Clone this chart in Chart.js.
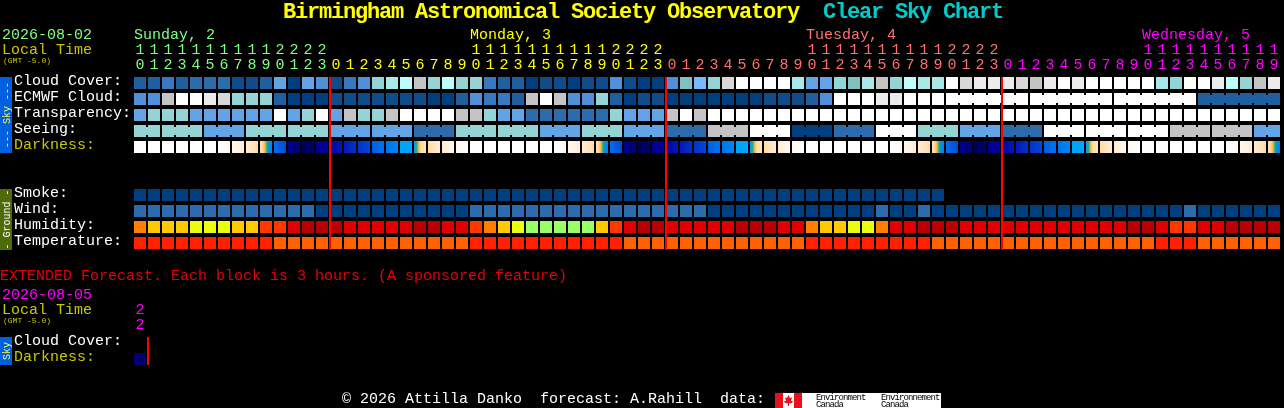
<!DOCTYPE html>
<html>
<head>
<meta charset="utf-8">
<title>Birmingham Astronomical Society Observatory Clear Sky Chart</title>
<script src="https://cdn.jsdelivr.net/npm/chart.js@4/dist/chart.umd.min.js"></script>
<style>
    html, body { margin: 0; padding: 0; background: #000; overflow: hidden; }
    canvas { display: block; }
</style>
</head>
<body>
<canvas id="sky-chart" width="1284" height="408"></canvas>
<script>
// local hour of each forecast block
const hours = [10,11,12,13,14,15,16,17,18,19,20,21,22,23,
    0,1,2,3,4,5,6,7,8,9,10,11,12,13,14,15,16,17,18,19,20,21,22,23,
    0,1,2,3,4,5,6,7,8,9,10,11,12,13,14,15,16,17,18,19,20,21,22,23,
    0,1,2,3,4,5,6,7,8,9,10,11,12,13,14,15,16,17,18,19];

// sky rows hold a level, 0 = best (dark blue) .. 15 = worst (white)
const cloudCover = [2,2,4,2,3,3,3,1,1,2, 6,0,6,5,1,4,5,9,10,11, 12,9,11,9,9,4,2,2,0,1,
    1,0,1,1,5,1,0,0,5,8, 7,9,13,15,15,15,15,10,6,6, 9,8,10,12,9,11,10,10,15,13,
    14,14,14,13,12,14,15,14,15,15, 15,15,15,10,9,15,15,14,11,9, 12,14];
const ecmwfCloud = [5,5,12,15,15,14,13,9,9,9, 2,0,0,0,1,1,1,1,1,1, 1,0,0,2,5,4,4,2,12,15,
    12,5,5,9,2,0,1,1,0,0, 0,0,0,0,0,1,1,1,2,5, 15,15,15,14,14,15,15,15,15,15,
    15,15,15,15,15,15,15,15,15,15, 15,15,15,15,15,15,2,2,2,2, 2,2];
const transparency = [6,9,9,9,6,6,6,6,6,6, 15,6,9,15,6,12,9,9,12,15, 15,15,15,12,12,9,6,6,3,3,
    3,3,3,3,9,6,6,6,12,15, 12,15,15,15,15,15,15,15,15,15, 15,15,15,15,15,15,15,15,15,15,
    15,15,15,15,15,15,15,15,15,15, 15,15,15,15,15,15,15,15,15,15, 15,15];
const seeing = [9,9, 9,9,9, 6,6,6, 9,9,9, 9,9,9, 6,6,6, 6,6,6, 3,3,3, 9,9,9, 9,9,9, 6,6,6,
    9,9,9, 6,6,6, 3,3,3, 12,12,12, 15,15,15, 0,0,0, 3,3,3, 15,15,15, 9,9,9, 6,6,6,
    3,3,3, 15,15,15, 15,15,15, 15,15,15, 12,12,12, 12,12,12, 6,6];
const smoke = [0,0,0,0,0,0,0,0,0,0, 0,0,0,0,0,0,0,0,0,0, 0,0,0,0,0,0,0,0,0,0,
    0,0,0,0,0,0,0,0,0,0, 0,0,0,0,0,0,0,0,0,0, 0,0,0,0,0,0,0,0];
const wind = [3,3,3,3,3,3,3,3,3,3, 3,3,3,0,0,0,0,0,0,0, 0,0,0,0,3,3,3,3,3,3,
    3,3,3,3,3,3,3,3,3,3, 3,0,0,0,0,0,0,0,0,0, 0,0,0,3,0,0,3,0,0,0,
    0,0,0,0,0,0,0,0,0,0, 0,0,0,0,0,3,0,0,0,0, 0,0];
// 0 = very humid .. 6 = dry
const humidity = [3,4,4,4,5,5,5,4,4,2, 2,1,0,0,0,1,1,1,1,1, 0,0,1,1,2,3,4,5,6,6,
    6,6,6,4,2,1,0,0,1,1, 1,1,1,0,0,0,1,1,3,4, 4,5,5,3,1,1,0,0,0,1,
    1,1,1,1,1,1,1,1,1,1, 1,0,0,1,2,2,1,1,0,0, 0,0];
const temperature = [0,0,0,0,0,0,0,0,0,0, 1,1,1,1,1,1,1,1,1,1, 1,1,1,1,0,0,0,0,0,0,
    0,0,0,0,0,1,1,1,1,1, 1,1,1,1,1,1,1,1,0,0, 0,0,0,0,0,0,0,1,1,1,
    1,1,1,1,1,1,1,1,1,1, 1,1,1,0,0,0,1,1,1,1, 1,1];
// darkness shifts inside a block, so each block lists its levels left to right
const darkness = [[0],[0],[0],[0],[0],[0],[0,1],[1,2],[2,3],[3,3,4,5,7,7],
    [8,10],[14,15],[16,15],[14,13],[13,12],[12,11],[11,10],[9,8],[8,7],[6],
    [6,5,4,3,3,2],[3,2],[2,1],[1,0],[0],[0],[0],[0],[0],[0],
    [0,1],[1,2],[2,3],[3,3,4,5,7,7],[8,10],[14,15],[16,15],[14,13],[13,12],[12,11],
    [11,10],[9,8],[8,7],[6],[6,5,4,3,3,2],[3,2],[2,1],[1,0],[0],[0],
    [0],[0],[0],[0],[0,1],[1,2],[2,3],[3,3,4,5,7,7],[8,10],[14,15],
    [16,15],[14,13],[13,12],[12,11],[11,10],[9,8],[8,7],[6],[6,5,4,3,3,2],[3,2],
    [2,1],[1,0],[0],[0],[0],[0],[0],[0],[0,1],[1,2],
    [2,3],[3,3,4,5,7,7]];
const extendedDarkness = [[15]];

// blocks of one model step share a joined shape
const seeingSteps = [0,2,5,8,11,14,17,20,23,26,29,32,35,38,41,44,47,50,53,56,59,62,65,68,71,74,77,80];
const ecmwfSteps = [58,64,70,76];
const dayStarts = [14,38,62];

const skyRows = ['Cloud Cover:', 'ECMWF Cloud:', 'Transparency:', 'Seeing:', 'Darkness:'];
const groundRows = ['Smoke:', 'Wind:', 'Humidity:', 'Temperature:'];
const dayNames = [['Sunday, 2', 0], ['Monday, 3', 24], ['Tuesday, 4', 48], ['Wednesday, 5', 72]];

const skyColors = ['#003f7f','#0f4c8a','#1f5fa0','#2c6cac','#3878c0','#4f90d8','#63a4e6','#78b8ff',
    '#80c0c0','#94d4d4','#a8e8e8','#bdfcfc','#c4c4c4','#d8d8d8','#ececec','#ffffff'];
const humidityColors = ['#b80000','#e00000','#ff3800','#ff8000','#ffc800','#eaff10','#99ff66'];
const temperatureColors = ['#ff2000','#ff6000'];
const darknessColors = ['#ffffff','#fff8ee','#ffedd5','#ffdca8','#ffb840','#10a8a0','#00a4ff','#0088f4','#0070ec',
    '#0060e4','#0048d8','#0034c8','#0018b8','#0000a4','#00008c','#000070','#000050'];
const dayColors = ['#80ff80', '#ffff00', '#ff7070', '#ff00ff'];

const PITCH = 14, ROW = 16, BLOCK = 12;
const TOP = 77, FIRST = 140;

function rowBars(values, row) {
    return values.map((_, i) => ({ x: i, y: [row, row + BLOCK / ROW] }));
}

function blockDataset(values, row, colors) {
    return {
        data: rowBars(values, row),
        backgroundColor: values.map(v => colors[v]),
        barThickness: BLOCK
    };
}

// short bars that fill the gap between blocks of the same model step
function neckDataset(values, steps, row) {
    const bars = [], colors = [];
    values.forEach((v, i) => {
        if (i >= steps[0] && i < values.length - 1 && !steps.includes(i + 1)) {
            bars.push({ x: i + 0.5, y: [row + 2 / ROW, row + 10 / ROW] });
            colors.push(skyColors[v]);
        }
    });
    return { data: bars, backgroundColor: colors, barThickness: 2 };
}

function darknessDataset(values, row) {
    return {
        data: rowBars(values, row),
        barThickness: BLOCK,
        backgroundColor: ctx => {
            const stops = values[ctx.dataIndex];
            const center = ctx.chart.scales.x.getPixelForValue(ctx.dataIndex);
            if (!stops || !isFinite(center)) return '#000';
            const g = ctx.chart.ctx.createLinearGradient(center - BLOCK / 2, 0, center + BLOCK / 2, 0);
            stops.forEach((s, i) => g.addColorStop(i / Math.max(1, stops.length - 1), darknessColors[s]));
            return g;
        }
    };
}

function separatorDataset(cols, fromRow, toRow) {
    return {
        data: cols.map(c => ({ x: c - BLOCK / 2 / PITCH, y: [fromRow, toRow] })),
        backgroundColor: '#ff0000',
        barThickness: 2
    };
}

function drawText(c, text, x, y, color, font, spacing) {
    c.font = font;
    c.fillStyle = color;
    c.letterSpacing = spacing || '0px';
    c.fillText(text, x, y);
    c.letterSpacing = '0px';
}

function drawTag(c, y0, y1, fill, text, color) {
    c.fillStyle = fill;
    c.fillRect(0, y0, 12, y1 - y0);
    c.save();
    c.translate(10, (y0 + y1) / 2);
    c.rotate(-Math.PI / 2);
    c.textAlign = 'center';
    drawText(c, text, 0, 0, color, '10px "Liberation Mono"');
    c.restore();
}

function colorForColumn(i) {
    let day = 0;
    dayStarts.forEach(s => { if (i >= s) day++; });
    return dayColors[day];
}

const textPlugin = {
    id: 'chartText',
    afterDatasetsDraw(chart) {
        const c = chart.ctx, x = chart.scales.x;
        const MONO = '15px "Liberation Mono"';
        const TITLE = 'bold 22px "Liberation Mono"';
        const SMALL = '8px "Liberation Mono"';
        const LOGO = '9px "Liberation Mono"';
        const OLIVE = '#c8c800';
        c.save();
        c.textBaseline = 'alphabetic';
        c.textAlign = 'left';

        drawText(c, 'Birmingham Astronomical Society Observatory', 283, 18, '#ffff00', TITLE, '-1.2px');
        drawText(c, 'Clear Sky Chart', 823, 18, '#00cccc', TITLE, '-1.2px');

        drawText(c, '2026-08-02', 2, 39, dayColors[0], MONO);
        drawText(c, 'Local Time', 2, 54, OLIVE, MONO);
        drawText(c, '(GMT -5.0)', 3, 63, OLIVE, SMALL);

        dayNames.forEach((d, i) => {
            drawText(c, d[0], x.getPixelForValue(d[1]) - 6, 39, dayColors[i], MONO);
        });

        c.textAlign = 'center';
        hours.forEach((h, i) => {
            const px = x.getPixelForValue(i);
            if (h >= 10) drawText(c, String(h)[0], px, 54, colorForColumn(i), MONO);
            drawText(c, String(h % 10), px, 69, colorForColumn(i), MONO);
        });
        c.textAlign = 'left';

        skyRows.forEach((label, i) => {
            drawText(c, label, 14, 85 + i * ROW, label === 'Darkness:' ? OLIVE : '#ffffff', MONO);
        });
        groundRows.forEach((label, i) => {
            drawText(c, label, 14, 197 + i * ROW, '#ffffff', MONO);
        });

        drawTag(c, 77, 153, '#0060e0', '--- Sky ---', '#ffff40');
        drawTag(c, 189, 250, '#4f6a08', '- Ground -', '#ffffff');

        drawText(c, 'EXTENDED Forecast. Each block is 3 hours. (A sponsored feature)', 0, 280, '#e80000', MONO);
        drawText(c, '2026-08-05', 2, 299, dayColors[3], MONO);
        drawText(c, 'Local Time', 2, 314, OLIVE, MONO);
        drawText(c, '(GMT -5.0)', 3, 323, OLIVE, SMALL);
        c.textAlign = 'center';
        drawText(c, '2', x.getPixelForValue(0), 314, dayColors[3], MONO);
        drawText(c, '2', x.getPixelForValue(0), 329, dayColors[3], MONO);
        c.textAlign = 'left';
        drawText(c, 'Cloud Cover:', 14, 345, '#ffffff', MONO);
        drawText(c, 'Darkness:', 14, 361, OLIVE, MONO);
        drawTag(c, 337, 365, '#0060e0', 'Sky', '#ffff40');

        drawText(c, '\u00a9 2026 Attilla Danko  forecast: A.Rahill  data:', 342, 403, '#ffffff', MONO);

        // Environment Canada logo
        c.fillStyle = '#ffffff';
        c.fillRect(783, 393, 158, 15);
        c.fillStyle = '#e8101c';
        c.fillRect(775, 393, 8, 15);
        c.fillRect(794, 393, 8, 15);
        c.beginPath();
        [[788.5,395],[790,398],[792,397.5],[791,401],[793,401],[792,403],[789,403.5],[789,406],[788,406],
            [788,403.5],[785,403],[784,401],[786,401],[785,397.5],[787,398]].forEach((p, i) => {
            if (i === 0) c.moveTo(p[0], p[1]); else c.lineTo(p[0], p[1]);
        });
        c.closePath();
        c.fill();
        drawText(c, 'Environment', 816, 400, '#000000', LOGO, '-0.9px');
        drawText(c, 'Canada', 816, 407, '#000000', LOGO, '-0.9px');
        drawText(c, 'Environnement', 881, 400, '#000000', LOGO, '-0.9px');
        drawText(c, 'Canada', 881, 407, '#000000', LOGO, '-0.9px');
        c.restore();
    }
};

const ctx = document.getElementById('sky-chart').getContext('2d');

new Chart(ctx, {
    type: 'bar',
    data: {
        datasets: [
            separatorDataset(dayStarts, 0, 10.8125),
            separatorDataset([1], 16.25, 18),
            neckDataset(seeing, seeingSteps, 3),
            neckDataset(ecmwfCloud, ecmwfSteps, 1),
            blockDataset(cloudCover, 0, skyColors),
            blockDataset(ecmwfCloud, 1, skyColors),
            blockDataset(transparency, 2, skyColors),
            blockDataset(seeing, 3, skyColors),
            darknessDataset(darkness, 4),
            blockDataset(smoke, 7, skyColors),
            blockDataset(wind, 8, skyColors),
            blockDataset(humidity, 9, humidityColors),
            blockDataset(temperature, 10, temperatureColors),
            darknessDataset(extendedDarkness, 17.25)
        ]
    },
    options: {
        responsive: false,
        animation: false,
        devicePixelRatio: 1,
        events: [],
        layout: { padding: 0 },
        datasets: { bar: { grouped: false, inflateAmount: 0, borderWidth: 0 } },
        plugins: { legend: { display: false }, tooltip: { enabled: false } },
        scales: {
            x: { type: 'linear', display: false, offset: false, min: -FIRST / PITCH, max: (1284 - FIRST) / PITCH },
            y: { type: 'linear', display: false, reverse: true, min: -TOP / ROW, max: (408 - TOP) / ROW }
        }
    },
    plugins: [textPlugin]
});
</script>
</body>
</html>
